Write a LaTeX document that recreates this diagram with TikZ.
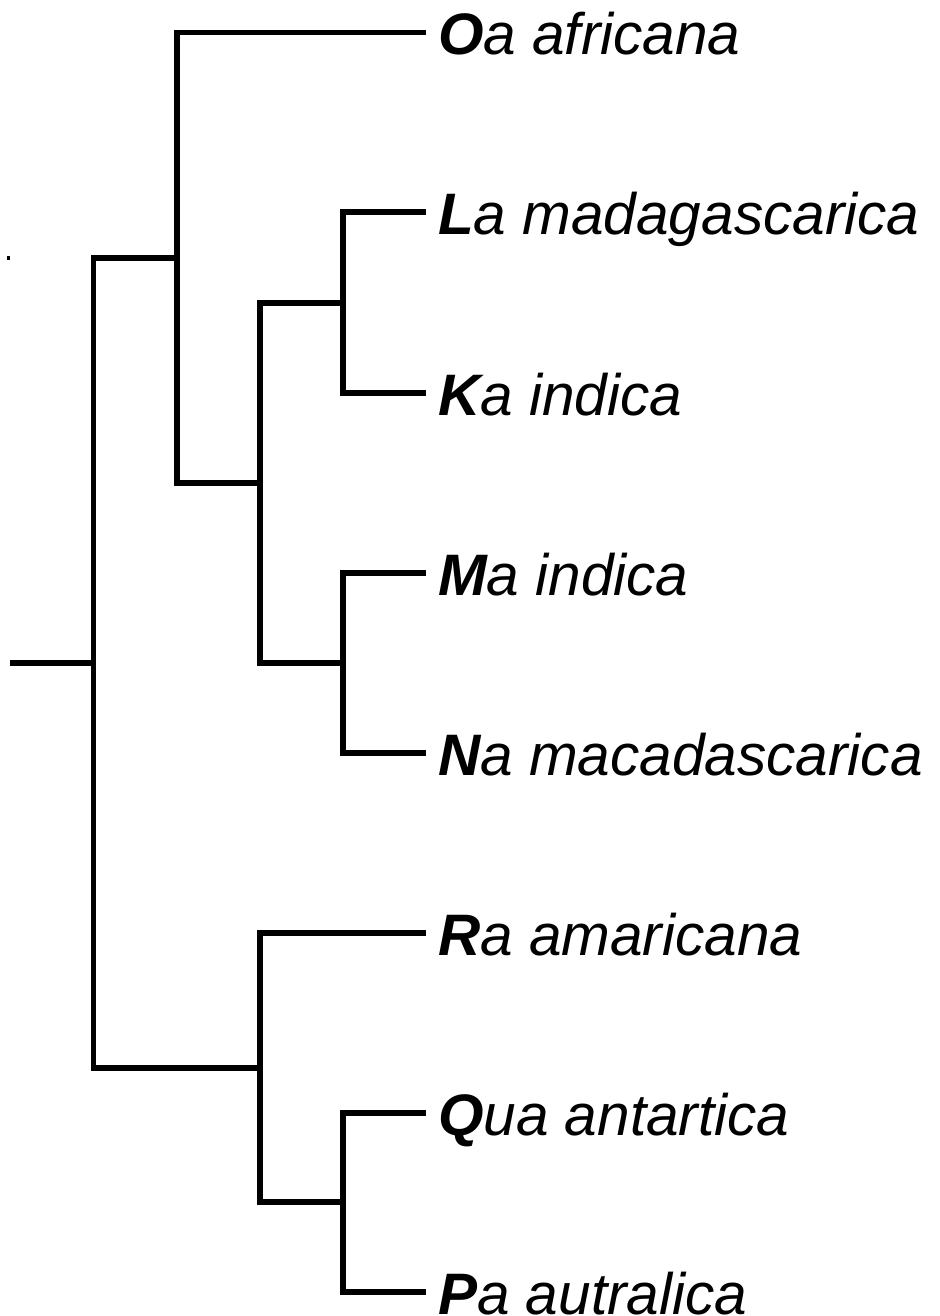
\documentclass[tikz,border=0pt]{standalone}
\usepackage{fontspec}
\setmainfont{Liberation Sans}
\begin{document}
\begin{tikzpicture}[x=1pt,y=-1pt,
  branch/.style={line width=5.5pt,line join=miter},
  leaf/.style={anchor=base west,inner sep=0pt,font=\fontsize{58.5}{60}\selectfont\itshape}]
\useasboundingbox (0,0) rectangle (939,1316);
% internal nodes
\coordinate (r0) at (10,663);
\coordinate (n1) at (93.5,663);
\coordinate (n2) at (177,258);
\coordinate (n3) at (260,483);
\coordinate (n4) at (343,303);
\coordinate (n5) at (343,663);
\coordinate (n6) at (260,1068);
\coordinate (n7) at (343,1202);
% tips
\coordinate (tO) at (426,32.5);
\coordinate (tL) at (426,212);
\coordinate (tK) at (426,393);
\coordinate (tM) at (426,573);
\coordinate (tN) at (426,753);
\coordinate (tR) at (426,933);
\coordinate (tQ) at (426,1113);
\coordinate (tP) at (426,1292);
% labels
\node[leaf] (O) at ([shift={(12,22)}]tO) {{\bfseries O}a africana};
\node[leaf] (L) at ([shift={(12,22)}]tL) {{\bfseries L}a madagascarica};
\node[leaf] (K) at ([shift={(12,22)}]tK) {{\bfseries K}a indica};
\node[leaf] (M) at ([shift={(12,22)}]tM) {{\bfseries M}a indica};
\node[leaf] (N) at ([shift={(12,22)}]tN) {{\bfseries N}a macadascarica};
\node[leaf] (R) at ([shift={(12,22)}]tR) {{\bfseries R}a amaricana};
\node[leaf] (Q) at ([shift={(12,22)}]tQ) {{\bfseries Q}ua antartica};
\node[leaf] (P) at ([shift={(12,22)}]tP) {{\bfseries P}a autralica};
% branches
\draw[branch] (r0) -- (n1);
\draw[branch] (n2) -| (n1) |- (n6);
\draw[branch] (tO) -| (n2) |- (n3);
\draw[branch] (n4) -| (n3) |- (n5);
\draw[branch] (tL) -| (n4) |- (tK);
\draw[branch] (tM) -| (n5) |- (tN);
\draw[branch] (tR) -| (n6) |- (n7);
\draw[branch] (tQ) -| (n7) |- (tP);
% small dot
\fill (6.5,256) rectangle (10,260);
\end{tikzpicture}
\end{document}
